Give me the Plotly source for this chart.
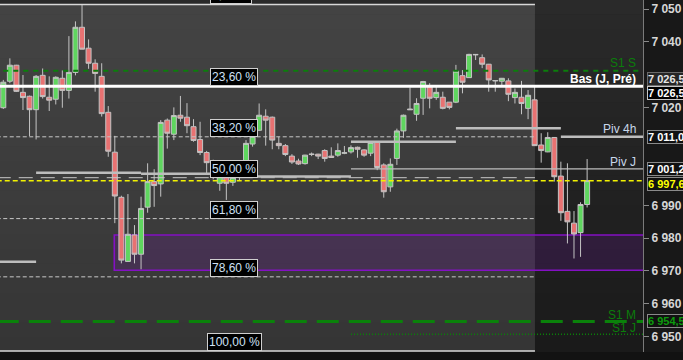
import plotly.graph_objects as go

# ---------------- data ----------------
candle_index = list(range(90))
candle_open = [7019.9, 7028.0, 7032.9, 7024.6, 7023.4, 7019.3, 7029.8, 7023.1, 7022.5, 7028.9,
               7025.2, 7030.7, 7044.5, 7038.1, 7033.5, 7029.5, 7018.5, 7006.3, 6992.5, 6972.9,
               6981.0, 6975.1, 6989.5, 6997.3, 6996.6, 7016.1, 7011.8, 7017.6, 7017.0, 7014.1,
               7010.2, 7006.2, 7003.1, 6996.8, 6998.6, 6997.1, 6998.6, 7001.5, 7008.8, 7013.0,
               7017.3, 7017.0, 7009.0, 7008.3, 7005.1, 7003.6, 7002.8, 7005.6, 7005.7, 7006.8,
               7005.1, 7005.4, 7006.0, 7006.4, 7007.8, 7007.0, 7006.0, 7009.3, 7002.4, 6995.7,
               7004.4, 7012.8, 7019.5, 7017.9, 7022.8, 7026.3, 7023.0, 7023.1, 7021.6, 7021.6,
               7029.7, 7029.1, 7036.2, 7035.2, 7033.2, 7028.1, 7028.0, 7028.1, 7023.0, 7023.1,
               7019.7, 7022.3, 7008.5, 7006.4, 7010.8, 6999.0, 6988.2, 6984.6, 6981.7, 6990.3]
candle_high = [7028.4, 7035.0, 7033.0, 7029.9, 7023.6, 7029.9, 7031.9, 7029.5, 7029.5, 7031.3,
               7041.8, 7046.3, 7051.5, 7040.8, 7034.7, 7033.5, 7020.4, 7011.3, 6993.0, 6993.5,
               6984.0, 6992.7, 7002.9, 7001.1, 7016.1, 7016.6, 7020.0, 7023.5, 7021.3, 7016.4,
               7015.6, 7006.7, 7004.0, 7001.0, 7000.0, 7001.0, 7003.0, 7010.0, 7012.0, 7021.2,
               7019.4, 7017.2, 7011.0, 7008.8, 7005.7, 7004.3, 7005.5, 7006.2, 7005.8, 7007.2,
               7007.8, 7009.0, 7008.2, 7008.4, 7008.0, 7007.2, 7009.7, 7009.5, 7002.9, 7004.4,
               7013.5, 7017.8, 7026.1, 7022.8, 7028.1, 7027.4, 7026.3, 7024.8, 7021.6, 7033.0,
               7031.4, 7036.4, 7036.3, 7036.2, 7033.3, 7028.3, 7029.0, 7028.9, 7025.8, 7028.1,
               7025.3, 7026.3, 7012.1, 7012.4, 7010.9, 7003.4, 7002.9, 6988.3, 6991.0, 7004.2]
candle_low = [7019.5, 7027.4, 7024.7, 7019.2, 7011.2, 7010.2, 7022.7, 7018.9, 7020.9, 7019.9,
              7022.7, 7029.8, 7037.8, 7031.8, 7024.8, 7017.2, 7004.9, 6984.6, 6972.3, 6972.8,
              6972.3, 6970.5, 6987.8, 6989.6, 6992.7, 7007.4, 7010.0, 7015.6, 7012.1, 7009.5,
              7005.4, 6999.8, 6998.0, 6994.5, 6991.7, 6996.0, 6997.5, 7000.5, 7008.0, 7012.8,
              7008.3, 7007.2, 7007.2, 7005.1, 7002.7, 7002.4, 7002.5, 7005.1, 7004.2, 7003.4,
              7004.7, 7004.9, 7005.7, 7005.9, 7004.6, 7004.9, 7005.1, 7000.8, 6992.4, 6994.2,
              7002.4, 7010.7, 7019.3, 7015.9, 7017.7, 7019.7, 7022.3, 7019.4, 7019.4, 7021.3,
              7024.3, 7029.0, 7034.5, 7032.0, 7024.8, 7024.8, 7026.6, 7021.9, 7021.2, 7017.9,
              7016.4, 7008.3, 7003.1, 7006.3, 6997.3, 6985.3, 6978.4, 6973.8, 6974.3, 6989.4]
candle_close = [7027.7, 7032.9, 7024.9, 7023.0, 7019.3, 7029.5, 7023.3, 7022.2, 7029.2, 7025.2,
                7030.7, 7044.5, 7037.8, 7033.5, 7030.4, 7018.1, 7006.6, 6992.9, 6973.3, 6981.2,
                6975.1, 6989.1, 6997.3, 6996.1, 7015.4, 7012.1, 7017.5, 7016.7, 7014.4, 7009.9,
                7006.2, 7003.1, 6999.5, 6999.2, 6996.8, 6998.6, 7002.0, 7009.0, 7011.2, 7017.6,
                7016.1, 7010.0, 7008.3, 7005.6, 7003.3, 7002.7, 7005.4, 7005.7, 7005.1, 7004.4,
                7004.7, 7006.8, 7006.1, 7007.7, 7007.2, 7005.4, 7009.3, 7001.6, 6994.2, 7002.6,
                7012.8, 7017.6, 7019.3, 7021.2, 7027.9, 7022.8, 7024.6, 7019.7, 7020.0, 7031.1,
                7027.7, 7036.2, 7036.1, 7033.2, 7028.4, 7028.2, 7028.9, 7024.0, 7024.6, 7021.2,
                7023.7, 7008.3, 7006.8, 7010.8, 6998.8, 6987.8, 6985.0, 6981.3, 6990.3, 6997.6]

# Fibonacci retracement
fib_top = 7051.5
fib_bottom = 6945.5
fib_pcts = [0.0, 23.6, 38.2, 50.0, 61.8, 78.6, 100.0]
fib_labels = ["0,00 %", "23,60 %", "38,20 %", "50,00 %", "61,80 %", "78,60 %", "100,00 %"]
fib_end_index = 81.05

# 4h pivot segments (start index, end index, level)
piv4h_start = [-1, 5, 21, 37, 53, 69, 85]
piv4h_end = [5, 21, 37, 53, 69, 85, 97.6]
piv4h_level = [6972.8, 7000.0, 6999.7, 6998.9, 7009.5, 7013.6, 7011.0]

# other levels
piv_j = 7001.2
bas_j_pre = 7026.5
s1_s = 7031.2
s1_m = 6954.5
s1_j = 6950.6
last_price = 6997.6
zone_low, zone_high = 6970.2, 6981.0
zone_start_index = 16.92
daily_start_index = 53

# axis ticks
tick_vals = [7050, 7040, 7020, 6990, 6980, 6970, 6960, 6950]
tick_text = ["7 050", "7 040", "7 020", "6 990", "6 980", "6 970", "6 960", "6 950"]

# price boxes on the axis: (text, y, text colour, fill, border)
axis_boxes = [
    ("7 026,5", 7028.8, "#e6e6e6", "#262626", "#6a6a6a"),
    ("7 026,5", 7024.4, "#ffffff", "#000000", "#c8c8c8"),
    ("7 011,0", 7011.0, "#ffffff", "#111111", "#8a8a8a"),
    ("7 001,2", 7001.2, "#ffffff", "#111111", "#8a8a8a"),
    ("6 997,6", 6996.6, "#ffff00", "#111111", "#8a8a8a"),
    ("6 954,5", 6954.7, "#0c9a0c", "#111111", "#8a8a8a"),
]
# text labels near right edge: (text, y, colour, bold)
side_labels = [
    ("S1 S", 7033.6, "#0b7d0b", False),
    ("Bas (J, Pré)", 7028.7, "#ffffff", True),
    ("Piv 4h", 7013.4, "#c8d8ea", False),
    ("Piv J", 7003.3, "#c8d8ea", False),
    ("S1 M", 6956.6, "#0b7d0b", False),
    ("S1 J", 6952.6, "#0b7d0b", False),
]

X_MIN, X_MAX = -0.503, 97.52
Y_MIN, Y_MAX = 6945.2, 7052.84

FONT = "Liberation Sans, Arial, sans-serif"

fig = go.Figure()
fig.add_trace(go.Candlestick(
    x=candle_index, open=candle_open, high=candle_high, low=candle_low, close=candle_close,
    increasing=dict(line=dict(color="#c4c4c4", width=1), fillcolor="#5fd65f"),
    decreasing=dict(line=dict(color="#c4c4c4", width=1), fillcolor="#e87272"),
    whiskerwidth=0, hoverinfo="skip", showlegend=False,
))

shapes = []
# background gradient
N = 24
top_c, bot_c = 42, 26
for k in range(N):
    t = (k + 0.5) / N
    v = int(round(top_c + (bot_c - top_c) * t))
    shapes.append(dict(type="rect", xref="paper", yref="paper", x0=0, x1=1,
                       y0=1 - (k + 1) / N, y1=1 - k / N + 0.001, layer="below",
                       fillcolor=f"rgb({v},{v},{v})", line=dict(width=0)))
# fib zone overlay
shapes.append(dict(type="rect", xref="x", yref="y", x0=-1, x1=fib_end_index,
                   y0=fib_bottom, y1=fib_top, layer="below",
                   fillcolor="rgba(255,255,255,0.12)", line=dict(width=0)))
# purple zone
shapes.append(dict(type="rect", xref="x", yref="y", x0=zone_start_index, x1=X_MAX + 1,
                   y0=zone_low, y1=zone_high, layer="below",
                   fillcolor="rgba(130,20,190,0.18)", line=dict(color="#8410c4", width=1.6)))


def hline(x0, x1, y, color, width, dash="solid"):
    shapes.append(dict(type="line", xref="x", yref="y", x0=x0, x1=x1, y0=y, y1=y,
                       line=dict(color=color, width=width, dash=dash)))


# fib lines
rng = fib_top - fib_bottom
for p in fib_pcts:
    lvl = fib_top - p / 100 * rng
    if p in (0.0, 100.0):
        hline(-1, fib_end_index, lvl, "#d8d8d8", 1.5)
    elif p == 50.0:
        hline(-1, fib_end_index, lvl, "#c8c8c8", 1, "14px,8px")
    else:
        hline(-1, fib_end_index, lvl, "#c8c8c8", 1, "4px,2.5px")

# green supports
hline(0, 96.8, s1_s, "#0b7d0b", 2.2, "5px,5px")
hline(-1, X_MAX + 1, s1_m, "#0a820a", 3, "22px,10px")
hline(daily_start_index, X_MAX + 1, s1_j, "#0a820a", 1.5, "1px,2px")

# pivots
for a, b, lv in zip(piv4h_start, piv4h_end, piv4h_level):
    hline(a, b, lv, "#bdbdbd", 2.5)
hline(daily_start_index, X_MAX + 1, piv_j, "#bdbdbd", 1.2)

# previous-day low
hline(-1, X_MAX + 1, bas_j_pre, "#ffffff", 3)
# last price
hline(-1, X_MAX + 1, last_price, "#f2f200", 1.5, "5px,3px")

# bottom strip of the chart (below plot area)
shapes.append(dict(type="rect", xref="paper", yref="paper", x0=-0.01, x1=1.2,
                   y0=-0.05, y1=0, layer="below", fillcolor="#121212", line=dict(width=0)))

annotations = []
for p, lab in zip(fib_pcts, fib_labels):
    lvl = fib_top - p / 100 * rng
    annotations.append(dict(
        x=31.5 if p != 100.0 else 31.1, y=lvl, xref="x", yref="y",
        xanchor="left", yanchor="bottom", text=lab, showarrow=False,
        bgcolor="#000000", bordercolor="#cfcfcf", borderwidth=1, borderpad=1,
        font=dict(family=FONT, size=12, color="#cfe0f5")))

for txt, y, col, fill, border in axis_boxes:
    annotations.append(dict(
        x=1, y=y, xref="paper", yref="y", xanchor="left", yanchor="middle",
        xshift=4, text=txt, showarrow=False, bgcolor=fill, bordercolor=border,
        borderwidth=1, borderpad=0,
        font=dict(family=FONT, size=11, color=col, weight="bold")))

for txt, y, col, bold in side_labels:
    annotations.append(dict(
        x=96.7, y=y, xref="x", yref="y", xanchor="right", yanchor="middle",
        text=txt, showarrow=False,
        font=dict(family=FONT, size=12, color=col, weight="bold" if bold else "normal")))

fig.update_layout(
    width=683, height=360,
    margin=dict(l=0, r=40, t=0, b=8),
    paper_bgcolor="#181818", plot_bgcolor="#222222",
    shapes=shapes, annotations=annotations,
    showlegend=False,
    boxgap=0.2, boxgroupgap=0.05,
    xaxis=dict(range=[X_MIN, X_MAX], visible=False, rangeslider=dict(visible=False),
               showgrid=False, zeroline=False, fixedrange=True),
    yaxis=dict(range=[Y_MIN, Y_MAX], side="right", showgrid=False, zeroline=False,
               tickvals=tick_vals, ticktext=tick_text, ticks="outside", ticklen=5,
               tickcolor="#8a8a8a", showline=True, linecolor="#7a7a7a", linewidth=1,
               tickfont=dict(family=FONT, size=12, color="#d6d6d6", weight="bold"),
               automargin=False, fixedrange=True),
)

fig.write_html("out.html")
